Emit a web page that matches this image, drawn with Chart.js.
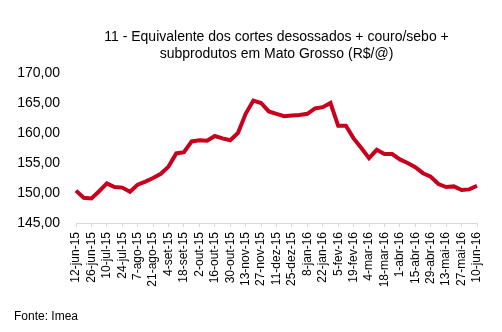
<!DOCTYPE html>
<html>
<head>
<meta charset="utf-8">
<script src="https://cdn.jsdelivr.net/npm/chart.js@4/dist/chart.umd.min.js"></script>
<style>
  html, body { margin: 0; padding: 0; background: #fff; }
  #wrap { width: 502px; height: 332px; position: relative; }
</style>
</head>
<body>
<div id="wrap"><canvas id="c" width="502" height="332"></canvas></div>
<script>
// Weekly dates (sexta-feira), jun/2015 a jun/2016
const weeks = [
  '12-jun-15','19-jun-15','26-jun-15','3-jul-15','10-jul-15','17-jul-15','24-jul-15','31-jul-15',
  '7-ago-15','14-ago-15','21-ago-15','28-ago-15','4-set-15','11-set-15','18-set-15','25-set-15',
  '2-out-15','9-out-15','16-out-15','23-out-15','30-out-15','6-nov-15','13-nov-15','20-nov-15',
  '27-nov-15','4-dez-15','11-dez-15','18-dez-15','25-dez-15','1-jan-16','8-jan-16','15-jan-16',
  '22-jan-16','29-jan-16','5-fev-16','12-fev-16','19-fev-16','26-fev-16','4-mar-16','11-mar-16',
  '18-mar-16','25-mar-16','1-abr-16','8-abr-16','15-abr-16','22-abr-16','29-abr-16','6-mai-16',
  '13-mai-16','20-mai-16','27-mai-16','3-jun-16','10-jun-16'
];

// Equivalente (R$/@) por semana
const equivalente = [
  150.4, 149.2, 149.1, 150.3, 151.6, 151.0, 150.9, 150.2,
  151.4, 151.9, 152.5, 153.2, 154.4, 156.6, 156.8, 158.6,
  158.8, 158.7, 159.5, 159.1, 158.8, 160.0, 163.2, 165.4,
  165.0, 163.6, 163.2, 162.8, 162.9, 163.0, 163.2, 164.1,
  164.3, 165.0, 161.2, 161.2, 159.1, 157.5, 155.8, 157.2,
  156.5, 156.5, 155.6, 155.0, 154.3, 153.3, 152.7, 151.5,
  151.0, 151.1, 150.5, 150.6, 151.2
];

const yTicks = { min: 145, max: 170, step: 5 };
const titleLines = [
  '11 - Equivalente dos cortes desossados + couro/sebo +',
  'subprodutos em Mato Grosso (R$/@)'
];
const sourceText = 'Fonte: Imea';

const FONT = '"Liberation Sans", Arial, Helvetica, sans-serif';

// Title centred over the plot area, plus the source note at the bottom left
const textPlugin = {
  id: 'chartTexts',
  afterDraw(chart) {
    const { ctx, chartArea } = chart;
    ctx.save();
    ctx.fillStyle = '#000';
    ctx.font = '14px ' + FONT;
    ctx.textAlign = 'center';
    ctx.textBaseline = 'middle';
    const cx = (chartArea.left + chartArea.right) / 2;
    titleLines.forEach((t, i) => ctx.fillText(t, cx, 37 + i * 17));
    ctx.font = '12px ' + FONT;
    ctx.textAlign = 'left';
    ctx.fillText(sourceText, 14, 317);
    ctx.restore();
  }
};

new Chart(document.getElementById('c'), {
  type: 'line',
  data: {
    labels: weeks,
    datasets: [{
      data: equivalente,
      borderColor: '#c8001e',
      borderWidth: 4,
      pointRadius: 0,
      tension: 0,
      fill: false
    }]
  },
  options: {
    responsive: false,
    animation: false,
    devicePixelRatio: 1,
    layout: { padding: { top: 73, right: 25, bottom: 39, left: 0 } },
    plugins: { legend: { display: false }, title: { display: false }, tooltip: { enabled: false } },
    scales: {
      x: {
        type: 'category',
        offset: false,
        afterFit(scale) { scale.height = 70; },
        grid: {
          drawOnChartArea: false,
          drawTicks: true,
          tickLength: 4,
          color: (c) => (c.index % 2 === 0 ? '#d9d9d9' : 'rgba(0,0,0,0)')
        },
        border: { display: true, color: '#d9d9d9', width: 1 },
        ticks: {
          autoSkip: false,
          maxRotation: 90,
          minRotation: 90,
          padding: 5,
          color: '#000',
          font: { family: FONT, size: 12 },
          callback(v, i) { return i % 2 === 0 ? weeks[i] : ''; }
        }
      },
      y: {
        min: yTicks.min,
        max: yTicks.max,
        afterFit(scale) { scale.width = 76; },
        grid: { display: false, drawTicks: false },
        border: { display: false },
        ticks: {
          stepSize: yTicks.step,
          padding: 16,
          color: '#000',
          font: { family: FONT, size: 14 },
          callback(v) { return v.toFixed(2).replace('.', ','); }
        }
      }
    }
  },
  plugins: [textPlugin]
});
</script>
</body>
</html>
